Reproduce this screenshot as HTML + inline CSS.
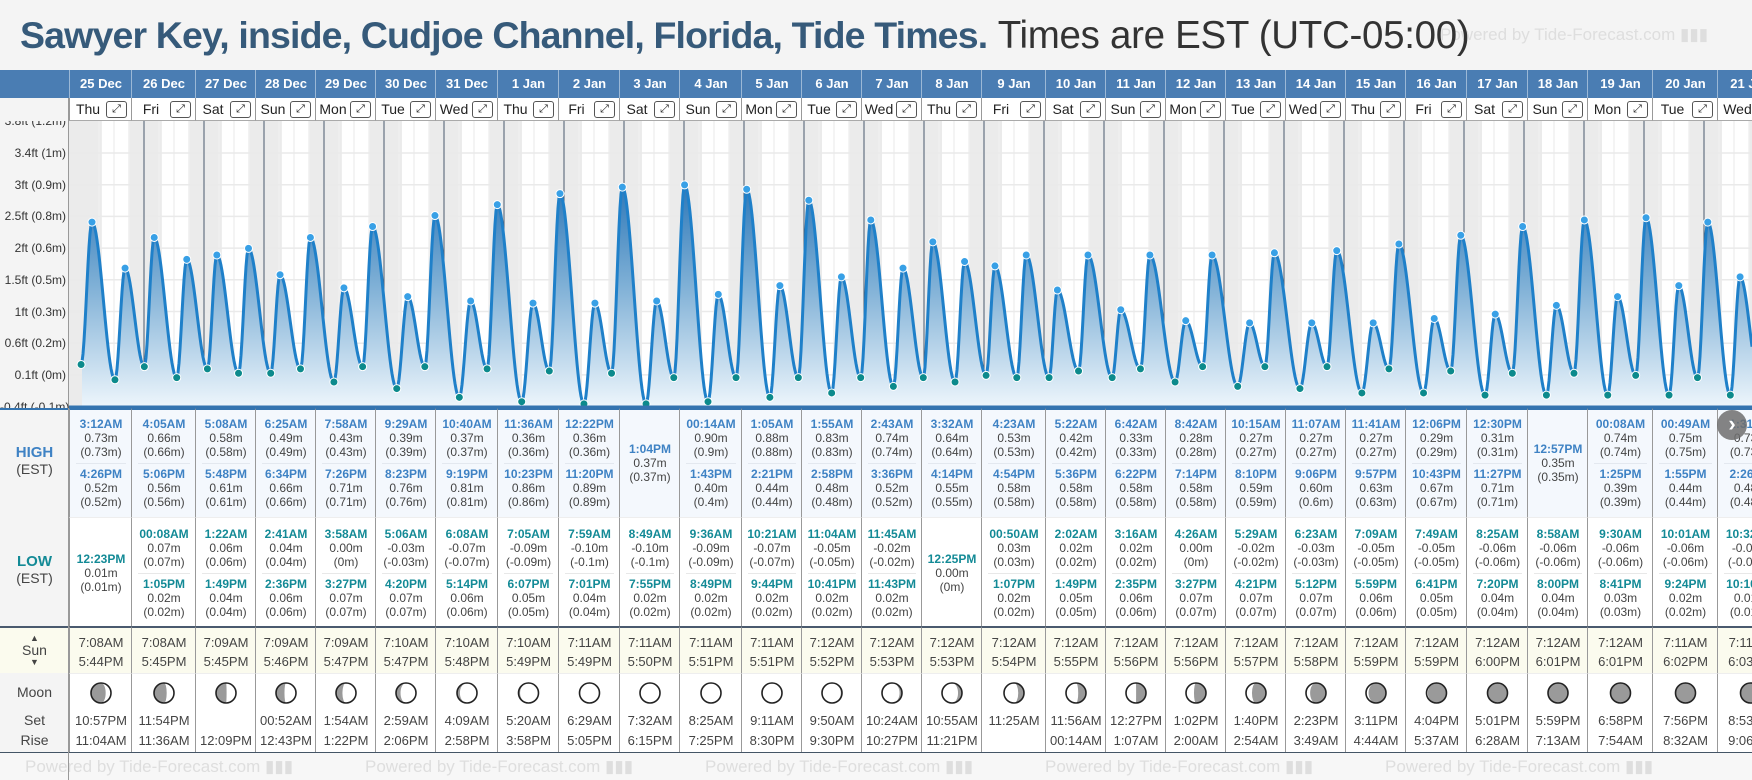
<!DOCTYPE html>
<html><head><meta charset="utf-8">
<style>
html,body{margin:0;padding:0;}
body{width:1752px;height:780px;overflow:hidden;background:#f4f4f4;font-family:"Liberation Sans",sans-serif;position:relative;}
.abs{position:absolute;}
#title{left:20px;top:10px;white-space:nowrap;font-size:37.5px;line-height:50px;}
#title b{color:#365a7a;letter-spacing:-0.85px;}
#title span{color:#333;font-weight:normal;font-size:38.5px;letter-spacing:-0.3px;}
.wm{position:absolute;color:#dedede;font-size:17px;white-space:nowrap;}
.hcell{position:absolute;top:70px;height:28px;background:#4a7db3;color:#fff;font-weight:bold;font-size:13px;text-align:center;line-height:28px;border-left:1px solid #9bb8d6;box-sizing:border-box;overflow:hidden;}
.dcell{position:absolute;top:98px;height:23px;background:#fff;font-size:14px;line-height:23px;border-left:1px solid #999;box-sizing:border-box;color:#222;border-bottom:1px solid #aaa;overflow:hidden;}
.dcell .ex{position:absolute;left:37px;top:3px;width:19px;height:15px;border:1px solid #555;border-radius:3px;font-size:11px;line-height:15px;text-align:center;}
.tcell{position:absolute;box-sizing:border-box;border-left:1px solid #999;text-align:center;font-size:12px;color:#444;overflow:hidden;}
.ln{position:absolute;left:0;right:0;height:14px;line-height:14px;white-space:nowrap;}
.ht{color:#3e82c4;font-weight:bold;}
.lt{color:#138a96;font-weight:bold;}
.lab{position:absolute;left:0;width:69px;text-align:center;font-size:14px;color:#444;}
.ytick{position:absolute;font-size:12px;color:#333;white-space:nowrap;text-align:right;}
#wrap{position:absolute;left:0;top:0;width:1752px;height:780px;overflow:hidden;}
</style></head>
<body>
<div id="wrap">
<div class="wm" style="left:1440px;top:25px;">Powered by Tide-Forecast.com ▮▮▮</div>
<div id="title" class="abs"><b>Sawyer Key, inside, Cudjoe Channel, Florida, Tide Times.</b> <span>Times are EST (UTC-05:00)</span></div>
<div class="abs" style="left:0;top:70px;width:69px;height:28px;background:#4a7db3;"></div>
<div class="abs" style="left:0;top:98px;width:69px;height:310px;background:#f4f4f4;border-right:1px solid #999;box-sizing:border-box;"></div>
<svg id="chart" class="abs" style="left:0;top:121px;" width="1752" height="290"></svg>
<div id="table"></div>
<div class="abs" style="left:0;top:752px;width:1752px;height:28px;background:#f7f7f7;border-top:1px solid #456;box-sizing:border-box;"></div>
<div id="foot"></div>
<div class="abs" style="left:1717px;top:410px;width:30px;height:30px;border-radius:15px;background:rgba(110,110,110,0.85);color:#fff;font-size:22px;line-height:28px;text-align:center;font-weight:bold;">›</div>
</div>
<script>
const dates=['25 Dec','26 Dec','27 Dec','28 Dec','29 Dec','30 Dec','31 Dec','1 Jan','2 Jan','3 Jan','4 Jan','5 Jan','6 Jan','7 Jan','8 Jan','9 Jan','10 Jan','11 Jan','12 Jan','13 Jan','14 Jan','15 Jan','16 Jan','17 Jan','18 Jan','19 Jan','20 Jan','21 Jan'];
const dows=['Thu','Fri','Sat','Sun','Mon','Tue','Wed','Thu','Fri','Sat','Sun','Mon','Tue','Wed','Thu','Fri','Sat','Sun','Mon','Tue','Wed','Thu','Fri','Sat','Sun','Mon','Tue','Wed'];
const highTimes=[['3:12AM','4:26PM'],['4:05AM','5:06PM'],['5:08AM','5:48PM'],['6:25AM','6:34PM'],['7:58AM','7:26PM'],['9:29AM','8:23PM'],['10:40AM','9:19PM'],['11:36AM','10:23PM'],['12:22PM','11:20PM'],['1:04PM'],['00:14AM','1:43PM'],['1:05AM','2:21PM'],['1:55AM','2:58PM'],['2:43AM','3:36PM'],['3:32AM','4:14PM'],['4:23AM','4:54PM'],['5:22AM','5:36PM'],['6:42AM','6:22PM'],['8:42AM','7:14PM'],['10:15AM','8:10PM'],['11:07AM','9:06PM'],['11:41AM','9:57PM'],['12:06PM','10:43PM'],['12:30PM','11:27PM'],['12:57PM'],['00:08AM','1:25PM'],['00:49AM','1:55PM'],['1:31AM','2:26PM']];
const highVals=[[0.73,0.52],[0.66,0.56],[0.58,0.61],[0.49,0.66],[0.43,0.71],[0.39,0.76],[0.37,0.81],[0.36,0.86],[0.36,0.89],[0.37],[0.90,0.40],[0.88,0.44],[0.83,0.48],[0.74,0.52],[0.64,0.55],[0.53,0.58],[0.42,0.58],[0.33,0.58],[0.28,0.58],[0.27,0.59],[0.27,0.60],[0.27,0.63],[0.29,0.67],[0.31,0.71],[0.35],[0.74,0.39],[0.75,0.44],[0.73,0.48]];
const lowTimes=[['12:23PM'],['00:08AM','1:05PM'],['1:22AM','1:49PM'],['2:41AM','2:36PM'],['3:58AM','3:27PM'],['5:06AM','4:20PM'],['6:08AM','5:14PM'],['7:05AM','6:07PM'],['7:59AM','7:01PM'],['8:49AM','7:55PM'],['9:36AM','8:49PM'],['10:21AM','9:44PM'],['11:04AM','10:41PM'],['11:45AM','11:43PM'],['12:25PM'],['00:50AM','1:07PM'],['2:02AM','1:49PM'],['3:16AM','2:35PM'],['4:26AM','3:27PM'],['5:29AM','4:21PM'],['6:23AM','5:12PM'],['7:09AM','5:59PM'],['7:49AM','6:41PM'],['8:25AM','7:20PM'],['8:58AM','8:00PM'],['9:30AM','8:41PM'],['10:01AM','9:24PM'],['10:32AM','10:10PM']];
const lowVals=[[0.01],[0.07,0.02],[0.06,0.04],[0.04,0.06],[0.00,0.07],[-0.03,0.07],[-0.07,0.06],[-0.09,0.05],[-0.10,0.04],[-0.10,0.02],[-0.09,0.02],[-0.07,0.02],[-0.05,0.02],[-0.02,0.02],[0.00],[0.03,0.02],[0.02,0.05],[0.02,0.06],[0.00,0.07],[-0.02,0.07],[-0.03,0.07],[-0.05,0.06],[-0.05,0.05],[-0.06,0.04],[-0.06,0.04],[-0.06,0.03],[-0.06,0.02],[-0.06,0.01]];
const prevLowTime='10:50PM', prevLowVal=0.08;
const sunrise=['7:08AM','7:08AM','7:09AM','7:09AM','7:09AM','7:10AM','7:10AM','7:10AM','7:11AM','7:11AM','7:11AM','7:11AM','7:12AM','7:12AM','7:12AM','7:12AM','7:12AM','7:12AM','7:12AM','7:12AM','7:12AM','7:12AM','7:12AM','7:12AM','7:12AM','7:12AM','7:11AM','7:11AM'];
const sunset=['5:44PM','5:45PM','5:45PM','5:46PM','5:47PM','5:47PM','5:48PM','5:49PM','5:49PM','5:50PM','5:51PM','5:51PM','5:52PM','5:53PM','5:53PM','5:54PM','5:55PM','5:56PM','5:56PM','5:57PM','5:58PM','5:59PM','5:59PM','6:00PM','6:01PM','6:01PM','6:02PM','6:03PM'];
const moonSet=['10:57PM','11:54PM','','00:52AM','1:54AM','2:59AM','4:09AM','5:20AM','6:29AM','7:32AM','8:25AM','9:11AM','9:50AM','10:24AM','10:55AM','11:25AM','11:56AM','12:27PM','1:02PM','1:40PM','2:23PM','3:11PM','4:04PM','5:01PM','5:59PM','6:58PM','7:56PM','8:53PM'];
const moonRise=['11:04AM','11:36AM','12:09PM','12:43PM','1:22PM','2:06PM','2:58PM','3:58PM','5:05PM','6:15PM','7:25PM','8:30PM','9:30PM','10:27PM','11:21PM','','00:14AM','1:07AM','2:00AM','2:54AM','3:49AM','4:44AM','5:37AM','6:28AM','7:13AM','7:54AM','8:32AM','9:06AM'];
const yTickLabels=['3.8ft (1.2m)','3.4ft (1m)','3ft (0.9m)','2.5ft (0.8m)','2ft (0.6m)','1.5ft (0.5m)','1ft (0.3m)','0.6ft (0.2m)','0.1ft (0m)','-0.4ft (-0.1m)'];

const colEdges=[69,131,195,255,315,375,435,497,558,619,679,741,801,861,921,981,1045,1105,1165,1225,1285,1345,1405,1466,1527,1587,1652,1717,1752];
const CT=121;
function mins(t){const m=t.match(/(\d+):(\d+)(AM|PM)/);let h=+m[1]%12;if(m[3]==='PM')h+=12;return h*60+(+m[2]);}
function xAt(day,min){return 84+60*(day+min/1440);}
function yAt(v){return 382-v*219-CT;}
const NS='http://www.w3.org/2000/svg';
const svg=document.getElementById('chart');
const wrap=document.getElementById('wrap');
function sv(tag,attrs){const e=document.createElementNS(NS,tag);for(const k in attrs)e.setAttribute(k,attrs[k]);svg.appendChild(e);return e;}

let e=sv('rect',{x:69,y:0,width:1683,height:287,fill:'#fff'});


e=sv('rect',{x:69,y:0,width:15,height:287,fill:'#ebebeb'});


for(let d=0;d<dates.length;d++){
  const x0=xAt(d,0),xr=xAt(d,mins(sunrise[d])),xs=xAt(d,mins(sunset[d])),x1=Math.min(1752,xAt(d+1,0));
  let n=sv('rect',{x:x0,y:0,width:Math.max(0,Math.min(1752,xr)-x0),height:287,fill:'#ebebeb'});
  
  
  if(xs<1752){
  n=sv('rect',{x:xs,y:0,width:x1-xs,height:287,fill:'#ebebeb'});
  
  }
  for(let q=1;q<4;q++){const gx=xAt(d,q*360);if(gx>1752)continue;
    const g=sv('line',{x1:gx,x2:gx,y1:0,y2:287,stroke:'#f0f0f0','stroke-width':1.5});
    
    }
}
for(let k=0;k<9;k++){const gy=153+31.7*k-CT;
  const g=sv('line',{x1:69,x2:1752,y1:gy,y2:gy,stroke:'#eaeaea','stroke-width':1.5});
  
  }
for(let d=1;d<dates.length;d++){const dx=xAt(d,0);
  const g=sv('line',{x1:dx,x2:dx,y1:0,y2:287,stroke:'#4a5a6e','stroke-width':1});
  
  }

const ev=[{t:xAt(-1,mins(prevLowTime)),v:prevLowVal,h:0}];
for(let d=0;d<dates.length;d++){
  highTimes[d].forEach((t,i)=>ev.push({t:xAt(d,mins(t)),v:highVals[d][i],h:1}));
  lowTimes[d].forEach((t,i)=>ev.push({t:xAt(d,mins(t)),v:lowVals[d][i],h:0}));
}
ev.sort((a,b)=>a.t-b.t);
let pts=[];
for(let i=0;i<ev.length-1;i++){const a=ev[i],b=ev[i+1];
  for(let x=Math.ceil(a.t);x<b.t;x+=1){const f=(x-a.t)/(b.t-a.t);const v=a.v+(b.v-a.v)*(1-Math.cos(Math.PI*f))/2;pts.push([x,yAt(v)]);}
}
pts=pts.filter(p=>p[0]>=69&&p[0]<=1752);
const defs=sv('defs',{});
defs.innerHTML='<linearGradient id="fg" x1="0" y1="0" x2="0" y2="1"><stop offset="0" stop-color="#2e78b8"/><stop offset="0.45" stop-color="#7fb0d6"/><stop offset="1" stop-color="#eef6fc"/></linearGradient>';
const line='M'+pts.map(p=>p[0].toFixed(1)+','+p[1].toFixed(1)).join('L');
e=sv('path',{d:line+'L'+pts[pts.length-1][0]+',287L'+pts[0][0]+',287Z',fill:'url(#fg)'});


e=sv('path',{d:line,fill:'none',stroke:'#1f80c9','stroke-width':3,'stroke-linejoin':'round'});


ev.forEach(p=>{if(p.t<69||p.t>1748)return;
  const c=sv('circle',{cx:p.t,cy:yAt(p.v),r:4,fill:p.h?'#38a0e6':'#0c8a8c',stroke:'#fff','stroke-width':1});
  
  
});
e=sv('line',{x1:69,x2:1752,y1:286,y2:286,stroke:'#3474b0','stroke-width':3});



yTickLabels.forEach((t,k)=>{
  const d=document.createElement('div');
  d.className='ytick';
  
  
  d.textContent=t;
  d.style.top=(121.3+31.7*k-7)+'px';
  if(k===0){d.style.top='114px';d.style.clip='rect(7px,80px,20px,0)';}
  d.style.left='0px';d.style.width='66px';
  wrap.appendChild(d);
});

const tbl=document.getElementById('table');
function fmt(v){return v.toFixed(2)+'m';}
function fmt2(v){return '('+(+v.toFixed(2)).toString()+'m)';}
function addLine(cell,top,text,cls){const l=document.createElement('div');l.className='ln'+(cls?' '+cls:'');l.style.top=top+'px';l.textContent=text;cell.appendChild(l);}
function group(cell,base,t,v,cls){addLine(cell,base,t,cls);addLine(cell,base+14,fmt(v));addLine(cell,base+28,fmt2(v));}
for(let d=0;d<dates.length;d++){
  const x=colEdges[d],w=colEdges[d+1]-colEdges[d];
  const inner=d===dates.length-1?65:w;
  const h=document.createElement('div');h.className='hcell';
  
  
  h.style.left=x+'px';h.style.width=w+'px';
  const hs=document.createElement('span');hs.style.cssText=`position:absolute;left:0;width:${inner}px;text-align:center;`;hs.textContent=dates[d];h.appendChild(hs);
  tbl.appendChild(h);
  const dc=document.createElement('div');dc.className='dcell';
  
  
  dc.style.left=x+'px';dc.style.width=w+'px';
  const dn=document.createElement('span');dn.textContent=dows[d];dn.style.position='absolute';dn.style.left='0';dn.style.width=(inner-26)+'px';dn.style.textAlign='center';dc.appendChild(dn);
  const exb=document.createElement('div');exb.className='ex';exb.textContent='⤢';exb.style.left=(inner-26)+'px';
  
  
  dc.appendChild(exb);tbl.appendChild(dc);

  function mkInner(cell){const c=document.createElement('div');c.style.cssText=`position:absolute;left:0;top:0;width:${inner}px;height:100%;`;cell.appendChild(c);return c;}

  const hc=document.createElement('div');hc.className='tcell';
  
  
  hc.style.cssText+=`left:${x}px;width:${w}px;top:408px;height:109px;background:#f4f8fd;border-top:2px solid #3474b0;`;
  let hi=mkInner(hc);
  if(highTimes[d].length===1){group(hi,32,highTimes[d][0],highVals[d][0],'ht');}
  else{group(hi,7,highTimes[d][0],highVals[d][0],'ht');group(hi,57,highTimes[d][1],highVals[d][1],'ht');
    const s=document.createElement('div');s.style.cssText='position:absolute;left:6px;right:6px;top:53px;border-top:1px solid #e3e8ef;';hi.appendChild(s);}
  tbl.appendChild(hc);

  const lc=document.createElement('div');lc.className='tcell';
  
  
  lc.style.cssText+=`left:${x}px;width:${w}px;top:517px;height:109px;background:#fff;border-top:1px solid #eee;`;
  let li=mkInner(lc);
  if(lowTimes[d].length===1){group(li,34,lowTimes[d][0],lowVals[d][0],'lt');}
  else{group(li,9,lowTimes[d][0],lowVals[d][0],'lt');group(li,59,lowTimes[d][1],lowVals[d][1],'lt');
    const s=document.createElement('div');s.style.cssText='position:absolute;left:6px;right:6px;top:55px;border-top:1px solid #e8e8e8;';li.appendChild(s);}
  tbl.appendChild(lc);

  const sc=document.createElement('div');sc.className='tcell';
  
  
  sc.style.cssText+=`left:${x}px;width:${w}px;top:626px;height:47px;background:#fbfbee;border-top:2px solid #4a5a6e;font-size:13px;`;
  let si=mkInner(sc);
  addLine(si,8,sunrise[d]);addLine(si,27,sunset[d]);tbl.appendChild(sc);

  const mc=document.createElement('div');mc.className='tcell';
  
  
  mc.style.cssText+=`left:${x}px;width:${w}px;top:673px;height:79px;background:#fff;border-top:1px solid #eee;font-size:13px;`;
  let mi=mkInner(mc);
  addLine(mi,40,moonSet[d]);addLine(mi,60,moonRise[d]);
  const p=((d+5.1)/29.53)%1, r=10, cx=inner/2, cy=19;
  const rx=Math.abs(Math.cos(2*Math.PI*p))*r;
  let path;
  if(p<0.5){const s2=p<0.25?0:1;path=`M${cx},${cy-r}A${r},${r} 0 0 1 ${cx},${cy+r}A${rx},${r} 0 0 ${s2} ${cx},${cy-r}Z`;}
  else{const s2=p>0.75?1:0;path=`M${cx},${cy-r}A${r},${r} 0 0 0 ${cx},${cy+r}A${rx},${r} 0 0 ${s2} ${cx},${cy-r}Z`;}
  const ms=document.createElementNS(NS,'svg');ms.setAttribute('width',inner);ms.setAttribute('height',40);ms.style.position='absolute';ms.style.left='0';ms.style.top='0';
  
  
  ms.innerHTML=`<circle cx="${cx}" cy="${cy}" r="${r}" fill="#9a9a9a"/><path d="${path}" fill="#fff"/><circle cx="${cx}" cy="${cy}" r="${r}" fill="none" stroke="#222" stroke-width="1.6"/>`;
  mi.appendChild(ms);tbl.appendChild(mc);
}
function lab(name,top,html,style){const d=document.createElement('div');d.className='lab';
  
  
  d.style.top=top+'px';d.innerHTML=html;if(style)d.style.cssText+=style;wrap.appendChild(d);return d;}
lab('high-row-bg',408,'','height:109px;background:#f4f4f4;border-top:2px solid #3474b0;box-sizing:border-box;');
lab('low-row-bg',517,'','height:109px;background:#f4f4f4;');
lab('sun-row-bg',626,'','height:47px;background:#fbfbee;border-top:2px solid #4a5a6e;box-sizing:border-box;');
lab('moon-row-bg',673,'','height:79px;background:#f4f4f4;');
lab('high-label',444,'<b style="color:#3e82c4;font-size:15px">HIGH</b><br>(EST)','line-height:17px;');
lab('low-label',553,'<b style="color:#138a96;font-size:15px">LOW</b><br>(EST)','line-height:17px;');
lab('sun-label',634,'<div style="font-size:9px;line-height:9px">▲</div>Sun<div style="font-size:9px;line-height:9px">▼</div>','line-height:15px;');
lab('moon-label',684,'Moon','line-height:16px;');
lab('moon-set-label',712,'Set','line-height:16px;');
lab('moon-rise-label',732,'Rise','line-height:16px;');
const lb=document.createElement('div');lb.style.cssText='position:absolute;left:68px;top:408px;width:1px;height:372px;background:#999;';


wrap.appendChild(lb);
const foot=document.getElementById('foot');
for(let k=0;k<5;k++){const w=document.createElement('div');w.className='wm';
  
  
  w.style.left=(25+340*k)+'px';w.style.top='757px';w.textContent='Powered by Tide-Forecast.com ▮▮▮';foot.appendChild(w);}
</script>
</body></html>
